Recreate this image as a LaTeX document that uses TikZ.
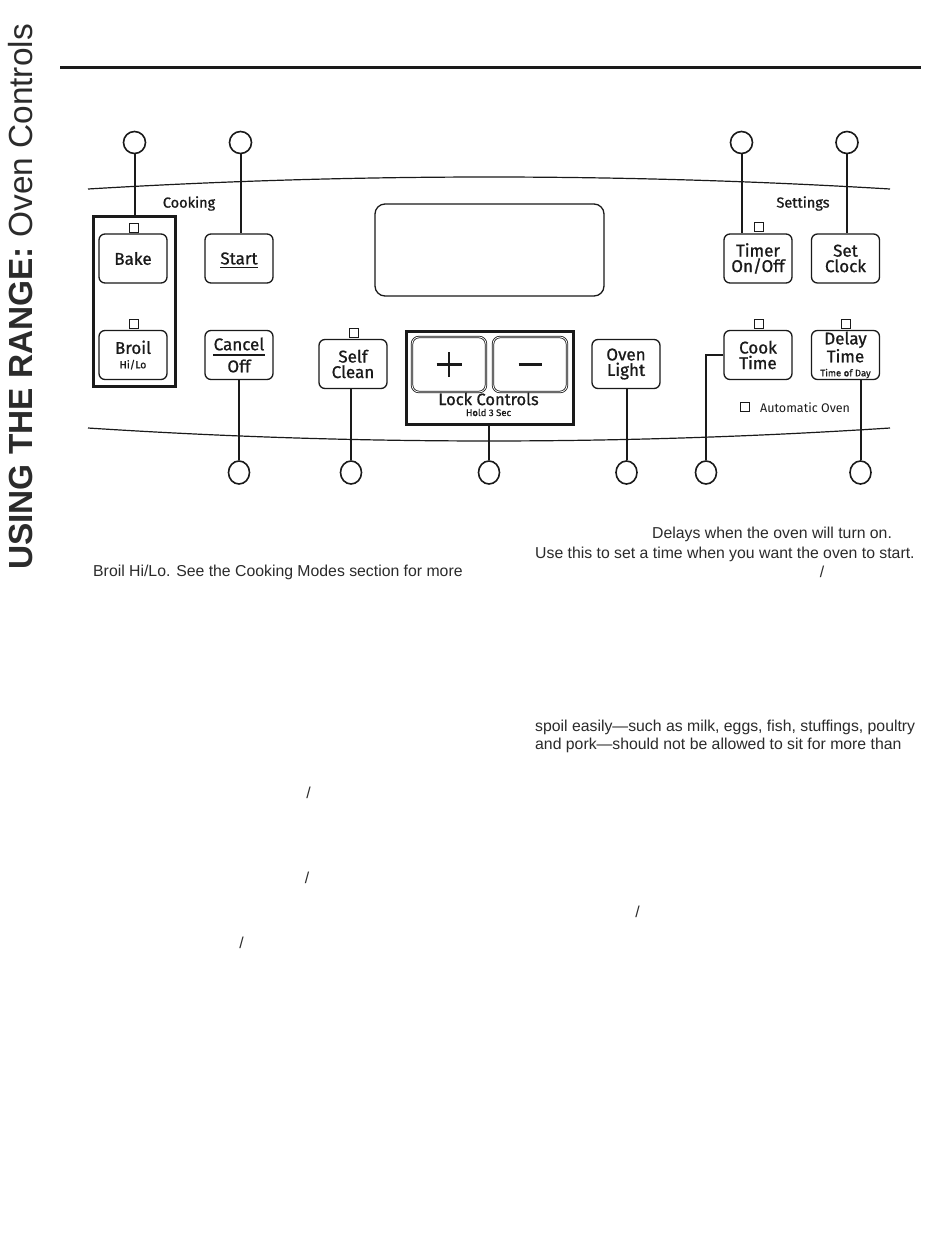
\documentclass[tikz,border=0pt]{standalone}
\usepackage{fontspec}
\usetikzlibrary{shapes.geometric}
\setmainfont{Liberation Sans}
\newfontfamily\pf[FakeBold=0.9]{Fira Sans}
\newfontfamily\pfr{Fira Sans}
\definecolor{ink}{HTML}{1A1A1A}
\definecolor{txt}{HTML}{2B2B2B}
\begin{document}
\begin{tikzpicture}[x=1pt,y=-1pt,
 btn/.style={draw=ink,line width=1.3pt,rounded corners=6pt,minimum width=68pt,minimum height=49pt,inner sep=0pt,align=center,font=\pf\fontsize{17}{15.5}\selectfont,text=ink},
 pm/.style={btn,minimum width=74pt,minimum height=55pt,rounded corners=7pt,double=white,double distance=0.8pt,line width=0.8pt},
 ind/.style={draw=ink,line width=0.9pt,minimum size=9pt,inner sep=0pt},
 callout/.style={draw=ink,line width=1.6pt,circle,minimum size=22pt,inner sep=0pt},
 bcallout/.style={draw=ink,line width=1.6pt,ellipse,minimum width=21pt,minimum height=23pt,inner sep=0pt},
 conn/.style={draw=ink,line width=2pt},
 grp/.style={draw=ink,line width=3pt,inner sep=0pt},
 panel/.style={draw=ink,line width=1.2pt},
 lbl/.style={font=\pf\fontsize{14.5}{16}\selectfont,text=ink,inner sep=0pt},
 body/.style={font=\fontsize{15.8}{19}\selectfont,text=txt,inner sep=0pt,anchor=base west},
 slash/.style={font=\fontsize{15.8}{19}\selectfont,text=txt,inner sep=0pt,anchor=base}]

\fill[white] (0,0) rectangle (950,1248);
\useasboundingbox (0,0) rectangle (950,1248);

% title and rule
\node[anchor=base west,rotate=90,inner sep=0pt,text=txt,font=\fontsize{33.4}{36}\selectfont] (title) at (32,570) {{\bfseries USING THE RANGE:} Oven Controls};
\draw[ink,line width=3.2pt] (60,67.5) -- (921,67.5);

% panel outline curves
\draw[panel] (88,189) .. controls (355,173) and (623,173) .. (890,189);
\draw[panel] (88,428) .. controls (355,445.3) and (623,445.3) .. (890,428);

% labels
\node[lbl] (cooking) at (189,203.5) {Cooking};
\node[lbl] (settings) at (803,203.5) {Settings};

% display
\node[draw=ink,line width=1.3pt,rounded corners=10pt,minimum width=229pt,minimum height=92pt,inner sep=0pt] (display) at (489.5,250) {};

% cooking group
\node[grp,minimum width=82pt,minimum height=170pt] (group) at (134,301) {};
\node[btn] (bake) at (133,258.5) {Bake};
\node[ind] (bakeind) at (133.5,227.5) {};
\node[btn] (broil) at (133,355) {Broil\\[-1pt]{\fontsize{10.5}{11}\selectfont Hi/Lo}};
\node[ind] (broilind) at (133.5,323.5) {};

\node[btn] (start) at (239,258.5) {Start};
\draw[ink,line width=1.7pt] ([shift={(-19pt,-9pt)}]start.center) -- ([shift={(19pt,-9pt)}]start.center);
\node[btn] (cancel) at (239,355) {Cancel\\[6.5pt]Off};
\draw[ink,line width=1.2pt] ([xshift=-26pt]cancel.center) -- ([xshift=26pt]cancel.center);

\node[btn] (selfclean) at (353,364) {Self\\Clean};
\node[ind] (selfind) at (353.5,332.5) {};

% lock controls
\node[grp,minimum width=167pt,minimum height=93pt] (lock) at (489.5,377.5) {};
\node[pm] (plus) at (449,364.5) {};
\node[pm] (minus) at (530,364.5) {};
\draw[ink,line width=2.8pt] ([xshift=-12.5pt]plus.center) -- ([xshift=12.5pt]plus.center);
\draw[ink,line width=2.8pt] ([yshift=-12.5pt]plus.center) -- ([yshift=12.5pt]plus.center);
\draw[ink,line width=2.8pt] ([xshift=-11.5pt]minus.center) -- ([xshift=11.5pt]minus.center);
\node[lbl,font=\pf\fontsize{16.5}{16}\selectfont] (locklbl) at (488.5,399) {Lock Controls};
\node[lbl,font=\pf\fontsize{9.5}{10}\selectfont] (holdlbl) at (488.5,412.5) {Hold 3 Sec};

\node[btn] (ovenlight) at (626,364) {Oven\\Light};

% settings
\node[btn] (timer) at (758,258.5) {Timer\\On/Off};
\node[ind] (timerind) at (758.5,227) {};
\node[btn] (setclock) at (845.5,258.5) {Set\\Clock};
\node[btn] (cooktime) at (758,355) {Cook\\Time};
\node[ind] (cookind) at (758.5,323.5) {};
\node[btn] (delay) at (845.5,355) {Delay\\Time\\[-1.5pt]{\fontsize{9.5}{10}\selectfont Time of Day}};
\node[ind] (delayind) at (846,323.5) {};
\node[ind] (autoind) at (745,407) {};
\node[lbl,font=\pfr\fontsize{12.5}{14}\selectfont,anchor=west] (autolbl) at (760,407.5) {Automatic Oven};

% callouts top
\node[callout] (c1) at (134.5,142.5) {};
\node[callout] (c2) at (240.5,142.5) {};
\node[callout] (c3) at (741.5,142.5) {};
\node[callout] (c4) at (847,142.5) {};
% callouts bottom
\node[bcallout] (b1) at (239,472.5) {};
\node[bcallout] (b2) at (351,472.5) {};
\node[bcallout] (b3) at (489,472.5) {};
\node[bcallout] (b4) at (626.5,472.5) {};
\node[bcallout] (b5) at (706,472.5) {};
\node[bcallout] (b6) at (860.5,472.5) {};

% connectors
\draw[conn] (c1.south) -- (c1.south |- group.north);
\draw[conn] (c2.south) -- (c2.south |- start.north);
\draw[conn] (c3.south) -- (c3.south |- timer.north);
\draw[conn] (c4.south) -- (c4.south |- setclock.north);
\draw[conn] (b1.north |- cancel.south) -- (b1.north);
\draw[conn] (b2.north |- selfclean.south) -- (b2.north);
\draw[conn] (b3.north |- lock.south) -- (b3.north);
\draw[conn] (b4.north |- ovenlight.south) -- (b4.north);
\draw[conn,line width=1.3pt] (cooktime.west) -| (b5.north);
\draw[conn] (b6.north |- delay.south) -- (b6.north);

% body text
\node[body] (t1) at (652,538) {Delays when the oven will turn on.};
\node[body] (t2) at (535,558) {Use this to set a time when you want the oven to start.};
\node[slash] (s0) at (822,577) {/};
\node[body] (t3) at (93,576) {Broil Hi/Lo. See the Cooking Modes section for more};
\node[body] (t4) at (535,731) {spoil easily---such as milk, eggs, fish, stuffings, poultry};
\node[body] (t5) at (535,749) {and pork---should not be allowed to sit for more than};
\node[slash] (s1) at (308.5,798) {/};
\node[slash] (s2) at (307,883) {/};
\node[slash] (s3) at (637.5,917) {/};
\node[slash] (s4) at (241.5,948) {/};
\end{tikzpicture}
\end{document}
